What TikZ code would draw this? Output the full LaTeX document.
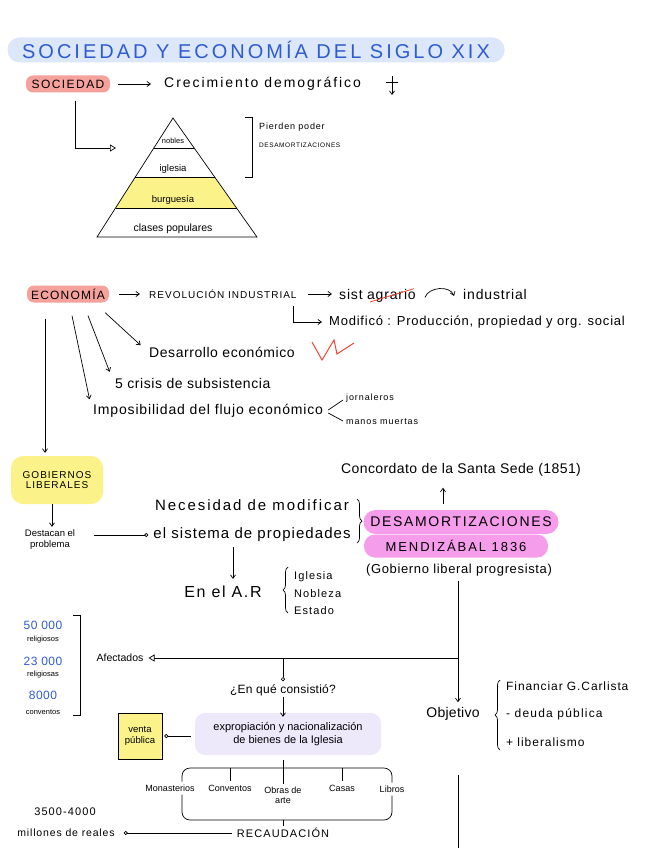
\documentclass[tikz,border=0pt]{standalone}
\usepackage{fontspec}
\setmainfont{Liberation Sans}
\usetikzlibrary{arrows.meta,calc,decorations.pathreplacing}

\definecolor{titleblue}{HTML}{DCE8FA}
\definecolor{inkblue}{HTML}{2F5BD0}
\definecolor{hlred}{HTML}{F5A19C}
\definecolor{hlyellow}{HTML}{FBF38A}
\definecolor{hlpink}{HTML}{F59CEB}
\definecolor{hllilac}{HTML}{EEE8FB}
\definecolor{inkred}{HTML}{F0442C}

% font with size and letter spacing
\newcommand{\hfont}[2]{\fontsize{#1}{#1}\selectfont\addfontfeature{LetterSpace=#2}}

\tikzset{
  hand/.style={font=\hfont{14}{14}, inner sep=1pt},
  note/.style={font=\fontsize{9.5}{11}\selectfont, inner sep=1pt, align=center},
  caps/.style={font=\hfont{10}{10}, inner sep=1pt},
  mini/.style={font=\fontsize{7.5}{9}\selectfont, inner sep=1pt},
  hilite/.style={rounded corners=7pt, inner sep=0pt},
  arr/.style={-{Straight Barb[length=3.5pt,width=5pt]}, line width=0.7pt},
  opentri/.style={-{Triangle[open,length=6pt,width=7pt]}, line width=0.7pt},
  dot/.style={-{Circle[open,length=4pt]}, line width=0.7pt},
  ink/.style={line width=0.7pt},
  curly/.style={decorate, decoration={brace,amplitude=5pt}, line width=0.7pt}
}

\begin{document}
\begin{tikzpicture}[x=1pt,y=-1pt]
\useasboundingbox (0,0) rectangle (646,848);
% Title
\node[hilite, rounded corners=12pt, fill=titleblue, minimum width=497, minimum height=25,
  text=inkblue, font=\hfont{20}{15}] (title) at (256,50)
  {SOCIEDAD Y ECONOMÍA DEL SIGLO XIX};
% Sociedad
\node[hilite, fill=hlred, minimum width=84, minimum height=17, font=\hfont{12}{12}] (soc) at (68,84) {SOCIEDAD};
\node[hand, anchor=west] (crec) at (163,84) {Crecimiento demográfico};
\draw[arr] (soc.east) ++(8,0) -- ($(crec.west)+(-12,0)$);
\coordinate (crecA) at (392,76);
\coordinate (crecB) at (392,95);
\draw[arr] (crecA) -- (crecB);
\draw[ink] (386,82) -- (398,82);
% Pyramid
\coordinate (apex) at (173,118);
\coordinate (bl) at (97,237);
\coordinate (br) at (257,237);
\fill[hlyellow] ($(apex)!0.496!(bl)$) -- ($(apex)!0.496!(br)$) -- ($(apex)!0.756!(br)$) -- ($(apex)!0.756!(bl)$) -- cycle;
\draw[ink] (apex) -- (bl) -- (br) -- cycle;
\foreach \t in {0.252,0.496,0.756}
  \draw[ink] ($(apex)!\t!(bl)$) -- ($(apex)!\t!(br)$);
\node[mini] (nob) at (173,141) {nobles};
\node[note] (igl) at (173,169) {iglesia};
\node[note] (burg) at (173,200) {burguesía};
\node[note, font=\fontsize{10.5}{12}\selectfont] (clases) at (173,229) {clases populares};
\coordinate (pyrL) at (116,148);
\draw[opentri] ($(soc.south)+(7,8)$) |- (pyrL);
% Bracket
\draw[ink] (245,117) -- (252,117) -- (252,177) -- (245,177);
\node[mini, anchor=west, font=\hfont{9}{9}] (pierden) at (258,127) {Pierden poder};
\node[mini, anchor=west, font=\hfont{6.5}{9}] (desamA) at (258,145) {DESAMORTIZACIONES};
% Economia
\node[hilite, fill=hlred, minimum width=82, minimum height=17, font=\hfont{12}{10}] (econ) at (68,294) {ECONOMÍA};
\node[caps, anchor=west] (revol) at (148,294) {REVOLUCIÓN INDUSTRIAL};
\node[hand, anchor=west, font=\hfont{14}{6}] (sist) at (338,294) {sist};
\node[hand, anchor=base west, font=\hfont{14}{6}] (agr) at ($(sist.base east)+(2,0)$) {agrario};
\draw[inkred, line width=0.8pt] ($(agr.base west)+(4,3)$) -- ($(agr.north east)+(-3,1)$);
\node[hand, anchor=west, font=\hfont{14}{6}] (indus) at (462,294) {industrial};
\draw[arr] (econ.east) ++(10,0) -- ($(revol.west)+(-8,0)$);
\draw[arr] (revol.east) ++(10,0) -- ($(sist.west)+(-6,0)$);
\draw[arr] ($(agr.east)+(8,2)$) to[out=70,in=110] ($(indus.west)+(-8,2)$);
\node[hand, anchor=west, font=\hfont{13}{6}] (modif) at (328,322) {Modificó : Producción, propiedad y org. social};
\draw[arr] ($(revol.south east)+(-4,6)$) |- ($(modif.west)+(-6,0)$);
\node[hand, anchor=west, font=\hfont{14}{4}] (desarr) at (148,352) {Desarrollo económico};
\draw[inkred, line width=1pt] (312,342) -- (322,360) -- (334,340) -- (337,354) -- (354,343);
\node[hand, anchor=west, font=\hfont{14}{4}] (crisis) at (114,383) {5 crisis de subsistencia};
\node[hand, anchor=west, font=\hfont{14}{6}] (imposib) at (92,411) {Imposibilidad del flujo económico};
\node[mini, anchor=west, font=\hfont{9}{10}] (jorn) at (345,398) {jornaleros};
\node[mini, anchor=west, font=\hfont{9}{10}] (manos) at (345,422) {manos muertas};
\draw[ink] ($(imposib.east)+(4,-1)$) -- ($(jorn.west)+(-2,2)$);
\draw[ink] ($(imposib.east)+(4,2)$) -- ($(manos.west)+(-2,-1)$);
\draw[arr, shorten >=10pt] ($(econ.south east)+(-4,10)$) -- (desarr.west);
\draw[arr, shorten >=12pt] ($(econ.south)+(20,13)$) -- (crisis.west);
\draw[arr, shorten >=12pt] ($(econ.south)+(4,13)$) -- (imposib.west);
% Gobiernos liberales
\node[hilite, rounded corners=12pt, fill=hlyellow, minimum width=92, minimum height=48, caps, align=center] (gob) at (57,480) {GOBIERNOS\\LIBERALES};
\draw[arr, shorten >=3pt] ($(econ.south)+(-23,16)$) -- (gob.north -| 45,0);
\node[note] (dest) at (50,540) {Destacan el\\problema};
\draw[arr] ($(gob.south)+(-5,0)$) -- ($(dest.north)+(2,-2)$);
\node[hand, font=\hfont{15}{13}] (neces) at (252,505) {Necesidad de modificar};
\node[hand, font=\hfont{15}{7}] (sistema) at (252,535) {el sistema de propiedades};
\draw[dot, shorten <=18pt, shorten >=4pt] (dest.east |- sistema) -- (sistema.west);
\draw[curly] (357,499) -- (357,543);
% Desamortizaciones
\node[hilite, rounded corners=12pt, fill=hlpink, minimum width=195, minimum height=24, font=\hfont{14}{12}] (desam) at (461,522) {DESAMORTIZACIONES};
\node[hilite, rounded corners=11pt, fill=hlpink, minimum width=184, minimum height=23, font=\hfont{13}{15}] (mendiz) at (456,546) {MENDIZÁBAL 1836};
\node[hand, font=\hfont{13}{5}] (prog) at (459,570) {(Gobierno liberal progresista)};
\node[hand, font=\hfont{14}{3}] (conc) at (461,470) {Concordato de la Santa Sede (1851)};
\draw[arr] ($(desam.north)+(-18,-6)$) -- ($(conc.south)+(-18,10)$);
% En el A.R
\node[hand, font=\hfont{16}{10}] (enAR) at (223,592) {En el A.R};
\draw[arr] ($(sistema.south)+(-19,4)$) -- ($(enAR.north)+(10,-6)$);
\draw[curly] (288,613) -- (288,567);
\node[note, anchor=west, font=\hfont{11}{10}] (igl2) at (293,577) {Iglesia};
\node[note, anchor=west, font=\hfont{11}{10}] (nob2) at (293,594) {Nobleza};
\node[note, anchor=west, font=\hfont{11}{10}] (est) at (293,611) {Estado};
% Afectados
\node[caps, text=inkblue, font=\hfont{12}{4}] (n1) at (43,625) {50 000};
\node[mini] (r1) at (43,640) {religiosos};
\node[caps, text=inkblue, font=\hfont{12}{4}] (n2) at (43,661) {23 000};
\node[mini] (r2) at (43,675) {religiosas};
\node[caps, text=inkblue, font=\hfont{12}{4}] (n3) at (43,695) {8000};
\node[mini] (r3) at (43,712) {conventos};
\draw[ink] (73,615) -- (80,615) -- (80,715) -- (73,715);
\node[note, font=\fontsize{10.5}{12}\selectfont] (afect) at (120,658) {Afectados};
\coordinate (junc) at (458,658);
\coordinate (split) at (283,658);
\draw[opentri, shorten >=4pt] (junc) -- (afect.east);
% Objetivo
\node[hand, font=\hfont{14}{2}] (obj) at (453,714) {Objetivo};
\draw[arr] ($(prog.south)+(-1,4)$) -- ($(obj.north)+(5,-4)$);
\draw[curly] (500,750) -- (500,680);
\node[note, anchor=west, font=\hfont{12}{7.5}] (finan) at (505,686) {Financiar G.Carlista};
\node[note, anchor=west, font=\hfont{12}{10}] (deuda) at (505,714) {- deuda pública};
\node[note, anchor=west, font=\hfont{12}{8}] (libe) at (505,742) {+ liberalismo};
\coordinate (tailA) at (458,775);
\coordinate (tailB) at (458,848);
\draw[ink] (tailA) -- (tailB);
% En que consistio
\node[hand, font=\hfont{12}{2}] (consist) at (283,690) {¿En qué consistió?};
\draw[dot] (split) -- ($(consist.north)+(0,-2)$);
\node[hilite, rounded corners=10pt, fill=hllilac, minimum width=186, minimum height=42, note, font=\fontsize{11}{13}\selectfont] (expro) at (288,734) {expropiación y nacionalización\\de bienes de la Iglesia};
\draw[arr] (consist.south) -- ($(expro.north)+(-5,4)$);
\node[draw, fill=hlyellow, line width=0.7pt, note, minimum width=44, minimum height=46] (venta) at (140,736) {venta\\pública};
\draw[dot, shorten <=4pt, shorten >=2pt] (expro.west |- venta) -- (venta.east);
% Bienes
\node[note, font=\fontsize{9}{10}\selectfont] (mon) at (170,788) {Monasterios};
\node[note, font=\fontsize{9}{10}\selectfont] (conv) at (230,788) {Conventos};
\node[note, font=\fontsize{9}{10}\selectfont] (obras) at (283,795) {Obras de\\arte};
\node[note, font=\fontsize{9}{10}\selectfont] (casas) at (342,788) {Casas};
\node[note, font=\fontsize{9}{10}\selectfont] (libros) at (392,789) {Libros};
\draw[ink, rounded corners=8pt] ($(mon.north)+(12,-2)$) |- (283,768) -| ($(libros.north)+(0,-2)$);
\draw[ink] (283,760) -- ($(obras.north)+(0,-2)$);
\draw[ink] (conv.north |- 0,768) -- ($(conv.north)+(0,-3)$);
\draw[ink] (casas.north |- 0,768) -- ($(casas.north)+(0,-3)$);
\draw[ink, rounded corners=8pt] ($(mon.south)+(12,2)$) |- (283,820) -| ($(libros.south)+(0,2)$);
\draw[ink] (283,820) -- (283,826);
% Recaudacion
\node[caps, font=\hfont{11}{10}] (recaud) at (283,833) {RECAUDACIÓN};
\node[note, font=\hfont{11}{10}] (rango) at (65,812) {3500-4000};
\node[note, font=\hfont{10.5}{8}] (mill) at (66,833) {millones de reales};
\draw[dot, shorten <=4pt, shorten >=8pt] (recaud.west) -- (mill.east);
\end{tikzpicture}
\end{document}
